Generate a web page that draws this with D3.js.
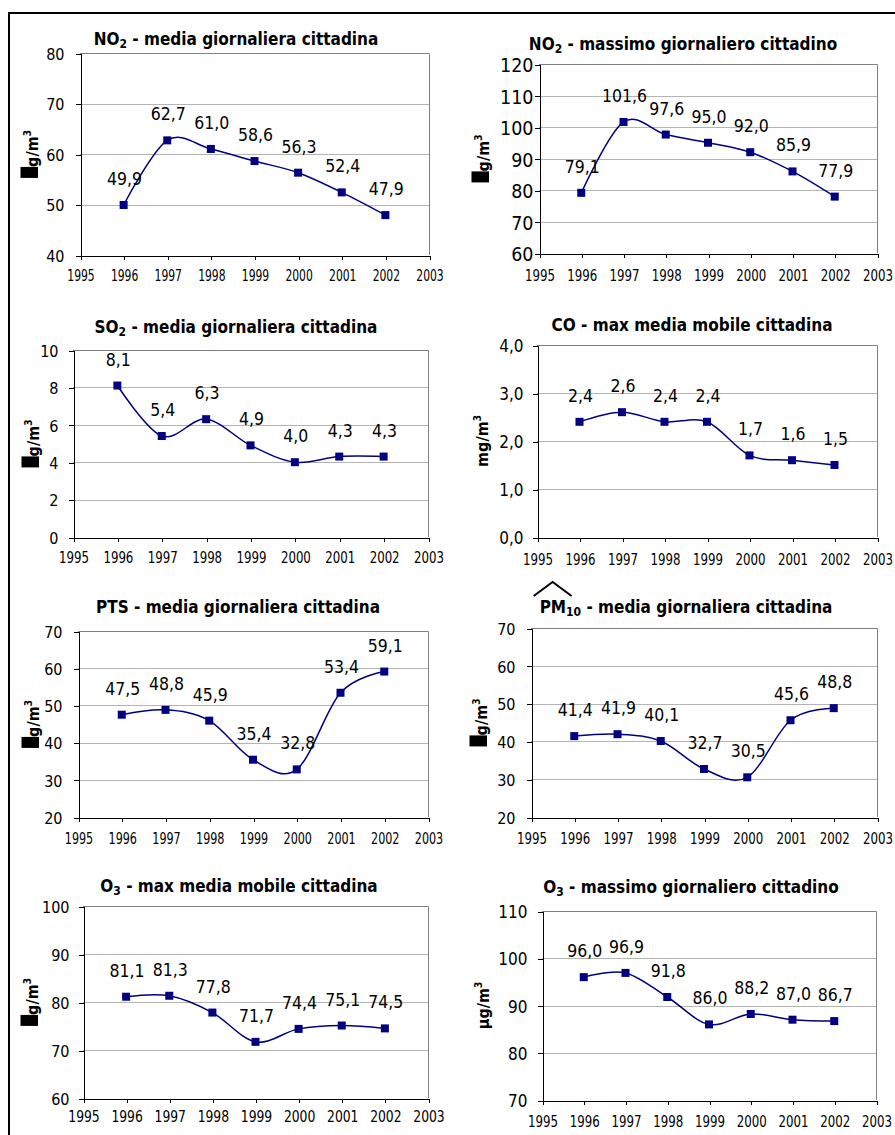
<!DOCTYPE html>
<html>
<head>
<meta charset="utf-8">
<script src="https://cdn.jsdelivr.net/npm/d3@7/dist/d3.min.js"></script>
<style>
	body { margin: 0; background: #ffffff; }
	svg text { font-family: "DejaVu Sans Condensed", "DejaVu Sans", sans-serif; font-stretch: condensed; fill: #000; }
</style>
</head>
<body>
<svg id="sheet" width="895" height="1135"></svg>
<script>
const years = [1996, 1997, 1998, 1999, 2000, 2001, 2002];
const axisYears = [1995, 1996, 1997, 1998, 1999, 2000, 2001, 2002, 2003];

const no2Media = [49.9, 62.7, 61.0, 58.6, 56.3, 52.4, 47.9];
const no2Massimo = [79.1, 101.6, 97.6, 95.0, 92.0, 85.9, 77.9];
const so2Media = [8.1, 5.4, 6.3, 4.9, 4.0, 4.3, 4.3];
const coMediaMobile = [2.4, 2.6, 2.4, 2.4, 1.7, 1.6, 1.5];
const ptsMedia = [47.5, 48.8, 45.9, 35.4, 32.8, 53.4, 59.1];
const pm10Media = [41.4, 41.9, 40.1, 32.7, 30.5, 45.6, 48.8];
const o3MediaMobile = [81.1, 81.3, 77.8, 71.7, 74.4, 75.1, 74.5];
const o3Massimo = [96.0, 96.9, 91.8, 86.0, 88.2, 87.0, 86.7];

const no2MediaTicks = [40, 50, 60, 70, 80];
const no2MassimoTicks = [60, 70, 80, 90, 100, 110, 120];
const so2Ticks = [0, 2, 4, 6, 8, 10];
const coTicks = [0, 1, 2, 3, 4];
const ptsTicks = [20, 30, 40, 50, 60, 70];
const pm10Ticks = [20, 30, 40, 50, 60, 70];
const o3MediaMobileTicks = [60, 70, 80, 90, 100];
const o3MassimoTicks = [70, 80, 90, 100, 110];

// title pieces: [text, subscript?]
const no2MediaTitle = [['NO', false], ['2', true], [' - media giornaliera cittadina', false]];
const no2MassimoTitle = [['NO', false], ['2', true], [' - massimo giornaliero cittadino', false]];
const so2Title = [['SO', false], ['2', true], [' - media giornaliera cittadina', false]];
const coTitle = [['CO - max media mobile cittadina', false]];
const ptsTitle = [['PTS - media giornaliera cittadina', false]];
const pm10Title = [['PM', false], ['10', true], [' - media giornaliera cittadina', false]];
const o3MediaMobileTitle = [['O', false], ['3', true], [' - max media mobile cittadina', false]];
const o3MassimoTitle = [['O', false], ['3', true], [' - massimo giornaliero cittadino', false]];

const commaLocale = d3.formatLocale({decimal: ',', thousands: '.', grouping: [3], currency: ['', ' €']});
const formatValue = commaLocale.format('.1f');
const formatInt = commaLocale.format('d');

const NAVY = '#000080';

const charts = [
	{values: no2Media, ticks: no2MediaTicks, title: no2MediaTitle, unit: 'g/m', box: true, tickFormat: formatInt,
		left: 80, top: 53, right: 429, bottom: 255, titleX: 236, titleY: 45, unitX: 38, gap: 16, xLabelOffset: 26, yFont: 16, xWidth: 27.5},
	{values: no2Massimo, ticks: no2MassimoTicks, title: no2MassimoTitle, unit: 'g/m', box: true, tickFormat: formatInt,
		left: 539, top: 64, right: 877, bottom: 253, titleX: 683, titleY: 50, unitX: 489, gap: 6, xLabelOffset: 28, yFont: 19.5, xWidth: 30},
	{values: so2Media, ticks: so2Ticks, title: so2Title, unit: 'g/m', box: true, tickFormat: formatInt,
		left: 73, top: 350, right: 428, bottom: 537, titleX: 236, titleY: 333, unitX: 39, gap: 15, xLabelOffset: 26, yFont: 16, xWidth: 30},
	{values: coMediaMobile, ticks: coTicks, title: coTitle, unit: 'mg/m', box: false, tickFormat: formatValue,
		left: 537, top: 345, right: 877, bottom: 537, titleX: 692, titleY: 331, unitX: 488, gap: 14, xLabelOffset: 28, yFont: 17, xWidth: 30},
	{values: ptsMedia, ticks: ptsTicks, title: ptsTitle, unit: 'g/m', box: true, tickFormat: formatInt,
		left: 78, top: 631, right: 428, bottom: 817, titleX: 238, titleY: 613, unitX: 39, gap: 16, xLabelOffset: 27, yFont: 16, xWidth: 28.5},
	{values: pm10Media, ticks: pm10Ticks, title: pm10Title, unit: 'g/m', box: true, tickFormat: formatInt, hat: true,
		left: 531, top: 628, right: 877, bottom: 817, titleX: 686, titleY: 613, unitX: 487, gap: 16, xLabelOffset: 27, yFont: 16, xWidth: 30},
	{values: o3MediaMobile, ticks: o3MediaMobileTicks, title: o3MediaMobileTitle, unit: 'g/m', box: true, tickFormat: formatInt,
		left: 83, top: 906, right: 428, bottom: 1098, titleX: 239, titleY: 892, unitX: 38, gap: 14, xLabelOffset: 24, yFont: 16, xWidth: 31.5},
	{values: o3Massimo, ticks: o3MassimoTicks, title: o3MassimoTitle, unit: '\u00b5g/m', box: false, tickFormat: formatInt,
		left: 542, top: 911, right: 876, bottom: 1100, titleX: 691, titleY: 893, unitX: 489, gap: 15, xLabelOffset: 27, yFont: 17, xWidth: 30}
];

const svg = d3.select('#sheet');

// page frame (top and left rules)
svg.append('path')
	.attr('d', 'M9,1135V13H895')
	.attr('fill', 'none')
	.attr('stroke', '#000')
	.attr('stroke-width', 2);

const drawChart = function(chart)
{
	const g = svg.append('g');
	const x = d3.scaleLinear().domain([1995, 2003]).range([chart.left, chart.right]);
	const y = d3.scaleLinear().domain(d3.extent(chart.ticks)).range([chart.bottom, chart.top]);

	// gridlines
	g.append('g').selectAll('line')
		.data(chart.ticks.slice(1, -1))
		.join('line')
		.attr('x1', chart.left).attr('x2', chart.right)
		.attr('y1', d => Math.round(y(d)) + 0.5).attr('y2', d => Math.round(y(d)) + 0.5)
		.attr('stroke', '#b4b4b4');

	// plot area border (top, right)
	g.append('path')
		.attr('d', `M${chart.left},${chart.top + 0.5}H${chart.right + 0.5}V${chart.bottom}`)
		.attr('fill', 'none')
		.attr('stroke', '#808080');

	const yAxis = d3.axisLeft(y)
		.tickValues(chart.ticks)
		.tickSize(5)
		.tickSizeOuter(0)
		.tickPadding(chart.gap - 5)
		.tickFormat(chart.tickFormat);

	const yAxisG = g.append('g')
		.attr('transform', `translate(${chart.left + 0.5},0.5)`)
		.call(yAxis);
	yAxisG.selectAll('text').attr('font-size', chart.yFont).attr('dy', '0.36em');

	const xAxis = d3.axisBottom(x)
		.tickValues(axisYears)
		.tickSize(4)
		.tickSizeOuter(0)
		.tickFormat(d3.format('d'));

	const xAxisG = g.append('g')
		.attr('transform', `translate(0.5,${chart.bottom + 0.5})`)
		.call(xAxis);
	// year labels are a bit narrow in the original
	xAxisG.selectAll('text')
		.attr('font-size', 15)
		.attr('y', chart.xLabelOffset)
		.attr('dy', 0)
		.attr('transform', function()
		{
			const sx = chart.xWidth / this.getComputedTextLength();
			return `scale(${sx},1)`;
		});

	[yAxisG, xAxisG].forEach(function(axisG)
	{
		axisG.selectAll('.domain, line').attr('stroke', '#000').attr('shape-rendering', 'crispEdges');
		axisG.attr('font-family', null);
	});

	// title
	const title = g.append('text')
		.attr('x', chart.titleX)
		.attr('y', chart.titleY)
		.attr('text-anchor', 'middle')
		.attr('font-size', 17)
		.attr('font-weight', 'bold');
	chart.title.forEach(function(piece)
	{
		const span = title.append('tspan').text(piece[0]);
		if(piece[1])
		{
			span.attr('font-size', 12).attr('dy', 3);
		}
		else if(title.selectAll('tspan').size() > 1)
		{
			span.attr('dy', -3);
		}
	});

	if(chart.hat)
	{
		const hx = title.node().getBBox().x - 6;
		g.append('path')
			.attr('d', `M${hx},${chart.titleY - 17}L${hx + 19},${chart.titleY - 31}L${hx + 38},${chart.titleY - 17}`)
			.attr('fill', 'none')
			.attr('stroke', '#000')
			.attr('stroke-width', 2);
	}

	// unit label, rotated
	const unitG = g.append('g')
		.attr('transform', `translate(${chart.unitX},${(chart.top + chart.bottom) / 2}) rotate(-90)`);
	const unitText = unitG.append('text')
		.attr('font-size', 16)
		.attr('font-weight', 'bold');
	unitText.append('tspan').text(chart.unit);
	unitText.append('tspan').text('3').attr('font-size', 10).attr('dy', -7);
	const boxW = chart.box ? 11 : 0;
	const textW = unitText.node().getComputedTextLength();
	const startX = -(boxW + textW) / 2;
	unitText.attr('x', startX + boxW);
	if(chart.box)
	{
		unitG.append('rect')
			.attr('x', startX)
			.attr('y', -17.5)
			.attr('width', boxW)
			.attr('height', 17.5)
			.attr('fill', '#000');
	}

	// series
	const points = chart.values.map((v, i) => ({year: years[i], value: v}));
	const line = d3.line()
		.x(d => x(d.year))
		.y(d => y(d.value))
		.curve(d3.curveCardinal.tension(0));

	g.append('path')
		.attr('d', line(points))
		.attr('fill', 'none')
		.attr('stroke', NAVY)
		.attr('stroke-width', 1.5);

	g.append('g').selectAll('rect')
		.data(points)
		.join('rect')
		.attr('x', d => x(d.year) - 4)
		.attr('y', d => y(d.value) - 4)
		.attr('width', 8)
		.attr('height', 8)
		.attr('fill', NAVY);

	g.append('g').selectAll('text')
		.data(points)
		.join('text')
		.attr('x', d => x(d.year) + 1)
		.attr('y', d => y(d.value) - 20)
		.attr('text-anchor', 'middle')
		.attr('font-size', 17.5)
		.text(d => formatValue(d.value));
}

charts.forEach(drawChart);
</script>
</body>
</html>
